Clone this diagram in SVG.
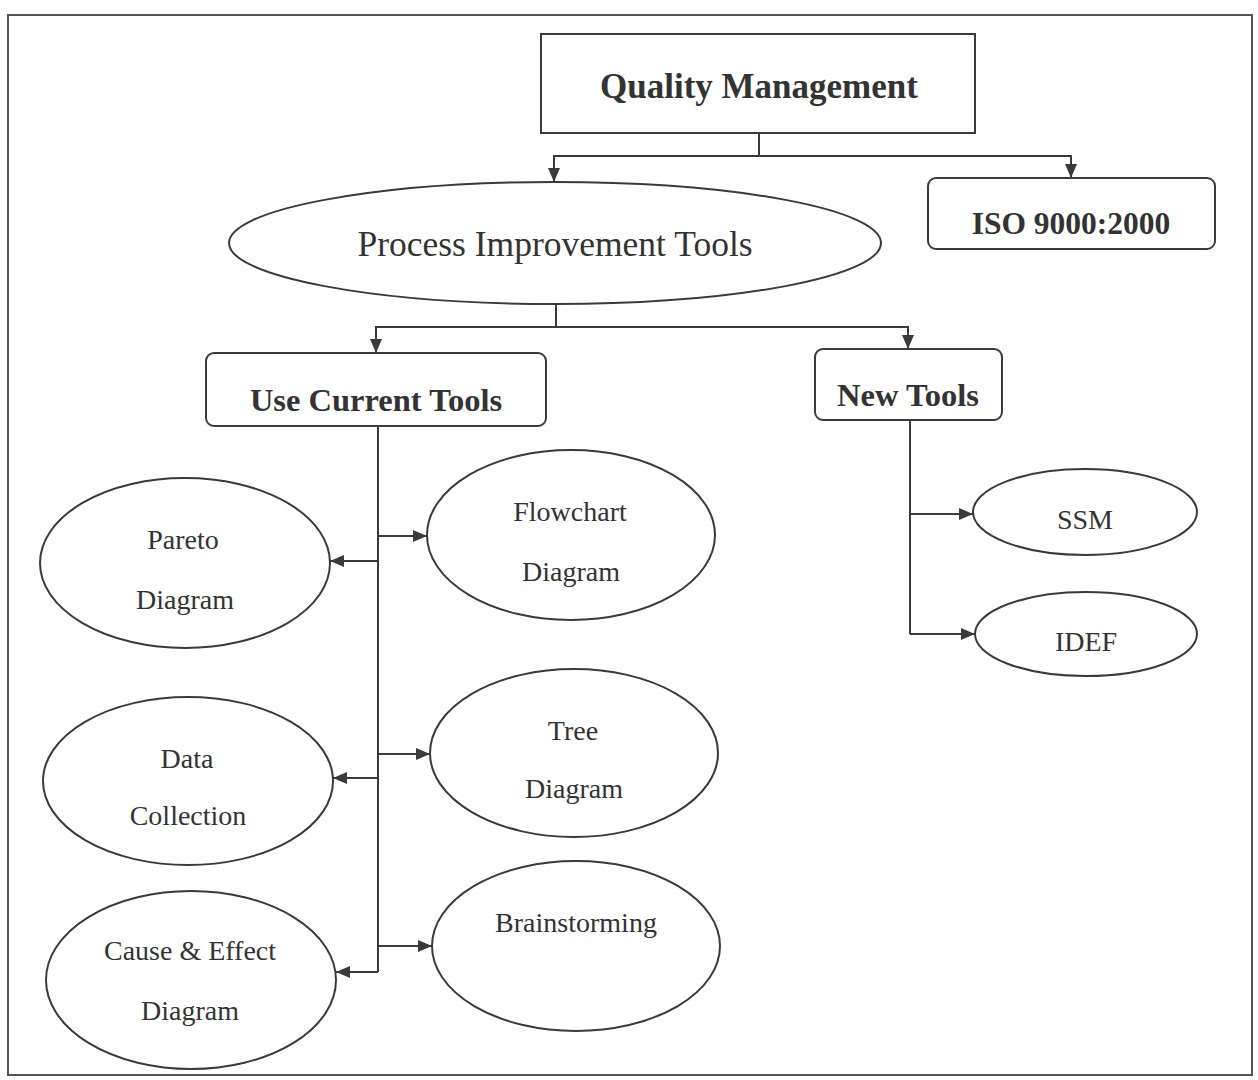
<svg xmlns="http://www.w3.org/2000/svg" width="1258" height="1080" viewBox="0 0 1258 1080">
  <style>
    .frame { fill: none; stroke: #555; stroke-width: 2; }
    .box { fill: #fff; stroke: #3a3a3a; stroke-width: 2; }
    .oval { fill: #fff; stroke: #3a3a3a; stroke-width: 2; }
    .link { fill: none; stroke: #3a3a3a; stroke-width: 2; }
    .title { font-family: "Liberation Serif", "Times New Roman", serif; fill: #333; text-anchor: middle; }
    .bold { font-weight: bold; }
    .small { font-size: 28px; }
  </style>
  <defs>
    <marker id="arrow" viewBox="0 0 14 12" refX="14" refY="6" markerWidth="14" markerHeight="12" markerUnits="userSpaceOnUse" orient="auto">
      <path d="M0,0 L14,6 L0,12 Z" fill="#3a3a3a"/>
    </marker>
  </defs>
  <rect width="1258" height="1080" fill="#fff"/>
  <rect class="frame" x="8" y="15" width="1244" height="1060"/>

  <g id="connectors">
    <!-- Quality Management split -->
    <path class="link" d="M759,133 V156"/>
    <path class="link" d="M759,156 H554 V182" marker-end="url(#arrow)"/>
    <path class="link" d="M759,156 H1071 V178" marker-end="url(#arrow)"/>
    <!-- Process Improvement split -->
    <path class="link" d="M556,304 V327"/>
    <path class="link" d="M556,327 H376 V353" marker-end="url(#arrow)"/>
    <path class="link" d="M556,327 H908 V349" marker-end="url(#arrow)"/>
    <!-- Current tools trunk -->
    <path class="link" d="M378,426 V972"/>
    <path class="link" d="M378,561 H330" marker-end="url(#arrow)"/>
    <path class="link" d="M378,778 H333" marker-end="url(#arrow)"/>
    <path class="link" d="M378,972 H336" marker-end="url(#arrow)"/>
    <path class="link" d="M378,536 H427" marker-end="url(#arrow)"/>
    <path class="link" d="M378,754 H430" marker-end="url(#arrow)"/>
    <path class="link" d="M378,946 H432" marker-end="url(#arrow)"/>
    <!-- New tools trunk -->
    <path class="link" d="M910,420 V634"/>
    <path class="link" d="M910,514 H973" marker-end="url(#arrow)"/>
    <path class="link" d="M910,634 H975" marker-end="url(#arrow)"/>
  </g>

  <g id="quality-management">
    <rect class="box" x="541" y="34" width="434" height="99"/>
    <text class="title bold" x="759" y="98" font-size="35">Quality Management</text>
  </g>

  <g id="iso-9000">
    <rect class="box" x="928" y="178" width="287" height="71" rx="8"/>
    <text class="title bold" x="1071" y="234" font-size="31.5">ISO 9000:2000</text>
  </g>

  <g id="process-improvement">
    <ellipse class="oval" cx="555" cy="243" rx="326" ry="61"/>
    <text class="title" x="555" y="256" font-size="35.5">Process Improvement Tools</text>
  </g>

  <g id="use-current-tools">
    <rect class="box" x="206" y="353" width="340" height="73" rx="8"/>
    <text class="title bold" x="376" y="411" font-size="32.5">Use Current Tools</text>
  </g>

  <g id="new-tools">
    <rect class="box" x="815" y="349" width="187" height="71" rx="8"/>
    <text class="title bold" x="908" y="406" font-size="32.5">New Tools</text>
  </g>

  <g id="pareto">
    <ellipse class="oval" cx="185" cy="563" rx="145" ry="85"/>
    <text class="title small" x="183" y="549">Pareto</text>
    <text class="title small" x="185" y="609">Diagram</text>
  </g>

  <g id="flowchart">
    <ellipse class="oval" cx="571" cy="535" rx="144" ry="85"/>
    <text class="title small" x="570" y="521">Flowchart</text>
    <text class="title small" x="571" y="581">Diagram</text>
  </g>

  <g id="data-collection">
    <ellipse class="oval" cx="188" cy="781" rx="145" ry="84"/>
    <text class="title small" x="187" y="768">Data</text>
    <text class="title small" x="188" y="825">Collection</text>
  </g>

  <g id="tree">
    <ellipse class="oval" cx="574" cy="753" rx="144" ry="84"/>
    <text class="title small" x="573" y="740">Tree</text>
    <text class="title small" x="574" y="798">Diagram</text>
  </g>

  <g id="cause-effect">
    <ellipse class="oval" cx="191" cy="980" rx="145" ry="89"/>
    <text class="title small" x="190" y="960">Cause &amp; Effect</text>
    <text class="title small" x="190" y="1020">Diagram</text>
  </g>

  <g id="brainstorming">
    <ellipse class="oval" cx="576" cy="946" rx="144" ry="85"/>
    <text class="title small" x="576" y="932">Brainstorming</text>
  </g>

  <g id="ssm">
    <ellipse class="oval" cx="1085" cy="512" rx="112" ry="43"/>
    <text class="title small" x="1085" y="529">SSM</text>
  </g>

  <g id="idef">
    <ellipse class="oval" cx="1086" cy="634" rx="111" ry="42"/>
    <text class="title small" x="1086" y="651">IDEF</text>
  </g>
</svg>
